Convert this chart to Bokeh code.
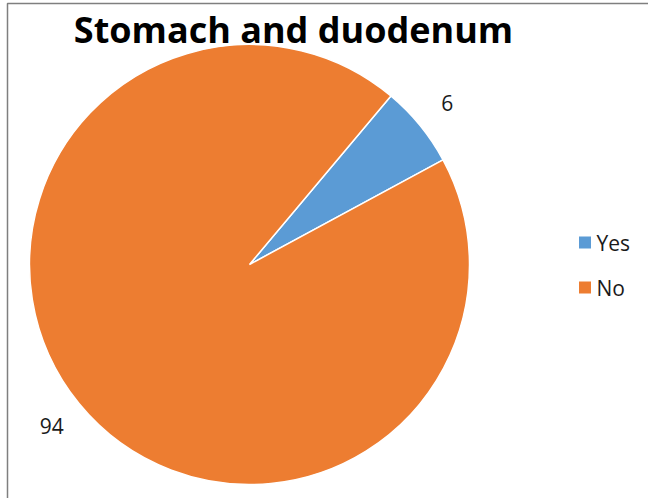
import math
from bokeh.plotting import figure
from bokeh.models import Range1d, ColumnDataSource
from bokeh.core.properties import value
from bokeh.embed import file_html
from bokeh.resources import INLINE

title = "Stomach and duodenum"
categories = ["Yes", "No"]
values = [6, 94]
colors = ["#5B9BD5", "#ED7D31"]

W, H = 648, 498
cx, cy, R = 249, 264, 220
first_slice_deg = 40  # clockwise from 12 o'clock
FONT = "Open Sans"

p = figure(width=W, height=H, output_backend="svg", toolbar_location=None,
           x_range=Range1d(0, W), y_range=Range1d(H, 0),
           min_border=0, match_aspect=False)
p.axis.visible = False
p.grid.visible = False
p.outline_line_color = None
p.background_fill_color = "white"

total = sum(values)
starts, ends, lx, ly = [], [], [], []
acc = first_slice_deg
for v in values:
    a0 = acc
    a1 = acc + 360 * v / total
    starts.append(math.radians(90 - a0))
    ends.append(math.radians(90 - a1))
    mid = math.radians((a0 + a1) / 2)
    lx.append(cx + 1.16 * R * math.sin(mid))
    ly.append(cy - 1.16 * R * math.cos(mid))
    acc = a1

src = ColumnDataSource(dict(start=starts, end=ends, color=colors,
                            label=[str(v) for v in values], lx=lx, ly=ly,
                            cat=categories))
p.wedge(x=cx, y=cy, radius=R, start_angle="start", end_angle="end",
        direction="clock", fill_color="color", line_color="white",
        line_width=1.5, source=src)
p.text(x="lx", y="ly", text="label", source=src, text_font=value(FONT),
       text_font_size="21px", text_color="#1a1a1a", text_align="center",
       text_baseline="middle")

# legend
leg_y = [242, 287]
p.rect(x=[584.5, 584.5], y=leg_y, width=12, height=12, fill_color=colors,
       line_color=None)
p.text(x=[596, 596], y=leg_y, text=categories, text_font=value(FONT),
       text_font_size="21px", text_color="#1a1a1a", text_baseline="middle")

# title
p.text(x=[293], y=[29], text=[title], text_font=value(FONT),
       text_font_size="36px", text_font_style="bold", text_color="black",
       text_align="center", text_baseline="middle")

# chart border
p.line(x=[7, 7, W], y=[H, 3, 3], line_color="#7f7f7f", line_width=1.5)

open("out.html", "w").write(file_html(p, INLINE))
